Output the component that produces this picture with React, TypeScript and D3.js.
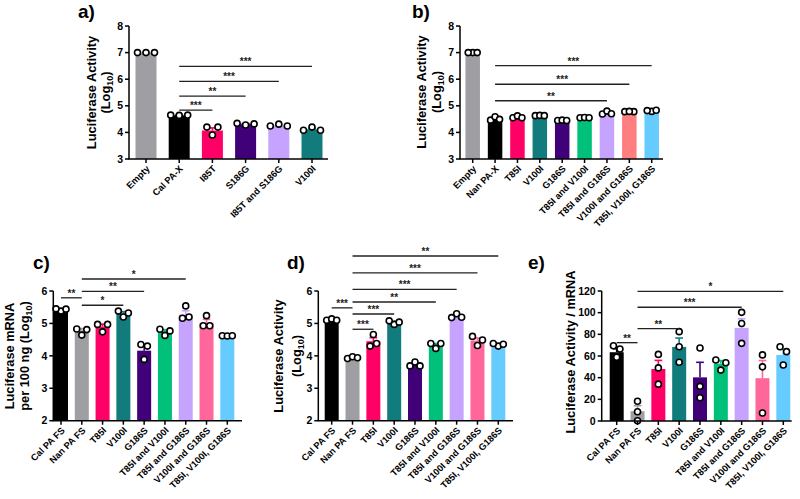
import React from "react";
import * as d3 from "d3";

const FONT = "'Liberation Sans', Arial, Helvetica, sans-serif";

// ---------- colours ----------
const GREY = "#9e9ea3";
const BLACK = "#000000";
const PINK = "#ff0066";
const TEAL = "#127c7c";
const PURPLE = "#3f0078";
const LAVENDER = "#c6a3ff";
const GREEN = "#00c07a";
const SALMON = "#ff7f80";
const ROSE = "#ff6699";
const SKY = "#66ccff";

// ---------- panel a ----------
const aCats = ["Empty", "Cal PA-X", "I85T", "S186G", "I85T and S186G", "V100I"];
const aMeans = [7.0, 4.64, 4.07, 4.31, 4.26, 4.12];
const aPoints = [
  [7.0, 7.0, 7.0],
  [4.64, 4.65, 4.65],
  [4.2, 3.9, 4.2],
  [4.28, 4.34, 4.32],
  [4.24, 4.31, 4.24],
  [4.08, 4.2, 4.08],
];
const aColors = [GREY, BLACK, PINK, PURPLE, LAVENDER, TEAL];
const aTicks = [3, 4, 5, 6, 7, 8];
const aSig = [
  { from: "Cal PA-X", to: "I85T", at: 4.84, label: "***" },
  { from: "Cal PA-X", to: "S186G", at: 5.36, label: "**" },
  { from: "Cal PA-X", to: "I85T and S186G", at: 5.92, label: "***" },
  { from: "Cal PA-X", to: "V100I", at: 6.48, label: "***" },
];

// ---------- panel b ----------
const bCats = ["Empty", "Nan PA-X", "T85I", "V100I", "G186S", "T85I and V100I", "T85I and G186S", "V100I and G186S", "T85I, V100I, G186S"];
const bMeans = [7.0, 4.5, 4.57, 4.63, 4.45, 4.55, 4.73, 4.78, 4.81];
const bPoints = [
  [7.0, 7.0, 7.0],
  [4.46, 4.59, 4.49],
  [4.55, 4.62, 4.55],
  [4.63, 4.64, 4.63],
  [4.45, 4.46, 4.45],
  [4.55, 4.56, 4.55],
  [4.69, 4.8, 4.7],
  [4.78, 4.78, 4.79],
  [4.79, 4.82, 4.83],
];
const bColors = [GREY, BLACK, PINK, TEAL, PURPLE, GREEN, LAVENDER, SALMON, SKY];
const bTicks = [3, 4, 5, 6, 7, 8];
const bSig = [
  { from: "Nan PA-X", to: "T85I and G186S", at: 5.19, label: "**" },
  { from: "Nan PA-X", to: "V100I and G186S", at: 5.81, label: "***" },
  { from: "Nan PA-X", to: "T85I, V100I, G186S", at: 6.51, label: "***" },
];

// ---------- panels c, d, e ----------
const fsCats = ["Cal PA FS", "Nan PA FS", "T85I", "V100I", "G186S", "T85I and V100I", "T85I and G186S", "V100I and G186S", "T85I, V100I, G186S"];
const fsColors = [BLACK, GREY, PINK, TEAL, PURPLE, GREEN, LAVENDER, ROSE, SKY];

const cMeans = [5.41, 4.78, 4.9, 5.31, 4.16, 4.75, 5.27, 5.02, 4.61];
const cPoints = [
  [5.38, 5.45, 5.44],
  [4.83, 4.81, 4.64],
  [4.97, 4.74, 4.97],
  [5.38, 5.2, 5.32],
  [4.35, 4.3, 3.89],
  [4.82, 4.63, 4.77],
  [5.54, 5.16, 5.2],
  [4.93, 5.24, 4.93],
  [4.62, 4.61, 4.62],
];
const cTicks = [2, 3, 4, 5, 6];
const cSig = [
  { from: "Cal PA FS", to: "Nan PA FS", at: 5.79, label: "**" },
  { from: "Nan PA FS", to: "V100I", at: 5.56, label: "*" },
  { from: "Nan PA FS", to: "G186S", at: 5.99, label: "**" },
  { from: "Nan PA FS", to: "T85I and G186S", at: 6.37, label: "*" },
];

const dMeans = [5.12, 3.94, 4.45, 5.03, 3.73, 4.33, 5.22, 4.47, 4.35];
const dPoints = [
  [5.1, 5.14, 5.1],
  [3.92, 3.97, 3.94],
  [4.3, 4.66, 4.38],
  [4.97, 5.08, 5.04],
  [3.69, 3.81, 3.69],
  [4.23, 4.38, 4.38],
  [5.3, 5.18, 5.19],
  [4.6, 4.32, 4.49],
  [4.3, 4.38, 4.36],
];
const dTicks = [2, 3, 4, 5, 6];
const dSig = [
  { from: "Cal PA FS", to: "Nan PA FS", at: 5.48, label: "***" },
  { from: "Nan PA FS", to: "T85I", at: 4.82, label: "***" },
  { from: "Nan PA FS", to: "V100I", at: 5.29, label: "***" },
  { from: "Nan PA FS", to: "T85I and V100I", at: 5.66, label: "**" },
  { from: "Nan PA FS", to: "T85I and G186S", at: 6.05, label: "***" },
  { from: "Nan PA FS", to: "V100I and G186S", at: 6.56, label: "***" },
  { from: "Nan PA FS", to: "T85I, V100I, G186S", at: 7.08, label: "**" },
];

const eMeans = [63.5, 9, 48, 68.4, 40.3, 53, 86, 39.5, 61];
const ePoints = [
  [69.5, 66.5, 58.8],
  [18.2, 8.6, 0.3],
  [61.5, 49, 34],
  [82.5, 68.6, 54.2],
  [67.4, 32, 21.5],
  [56.3, 47, 53.8],
  [100.3, 90, 71.7],
  [61, 50, 7.4],
  [68.6, 51.7, 64],
];
const eTicks = [0, 20, 40, 60, 80, 100, 120];
const eSig = [
  { from: "Cal PA FS", to: "Nan PA FS", at: 72.3, label: "**" },
  { from: "Nan PA FS", to: "V100I", at: 85.2, label: "**" },
  { from: "Nan PA FS", to: "T85I and G186S", at: 105, label: "***" },
  { from: "Nan PA FS", to: "T85I, V100I, G186S", at: 119.7, label: "*" },
];

type Sig = { from: string; to: string; at: number; label: string };
type YLine = { text: string; sub?: string; tail?: string; x: number };

type PanelProps = {
  title: string;
  titleX: number;
  titleY: number;
  cats: string[];
  means: number[];
  points: number[][];
  colors: string[];
  ticks: number[];
  axisX: number;
  axisEnd: number;
  firstX: number;
  lastX: number;
  yTop: number;
  yBot: number;
  barW: number;
  spread: number;
  ylabel: YLine[];
  ylabelY: number;
  sig: Sig[];
};

function sem(v: number[]) {
  const m = d3.mean(v) as number;
  const sd = d3.deviation(v) as number;
  return { m, s: sd / Math.sqrt(v.length) };
}

function spreadPoints(vals: number[], y: (v: number) => number, d: number): number[] {
  const thr = 7.5;
  const py = vals.map(y);
  const n = vals.length;
  const collide = (i: number, j: number) => Math.abs(py[i] - py[j]) < thr;
  const offs = new Array(n).fill(0);
  if (n === 3) {
    const c01 = collide(0, 1), c02 = collide(0, 2), c12 = collide(1, 2);
    const cnt = [c01, c02, c12].filter(Boolean).length;
    if (cnt >= 2) {
      const dist = [0, 1, 2].map((i) => [0, 1, 2].reduce((s, j) => s + Math.abs(py[i] - py[j]), 0));
      const mid = dist.indexOf(Math.max(...dist));
      const others = [0, 1, 2].filter((i) => i !== mid);
      offs[mid] = 0;
      offs[others[0]] = -d;
      offs[others[1]] = d;
    } else if (cnt === 1) {
      const pair = c01 ? [0, 1] : c02 ? [0, 2] : [1, 2];
      offs[pair[0]] = -0.65 * d;
      offs[pair[1]] = 0.65 * d;
    }
  }
  return offs;
}

function Panel(p: PanelProps) {
  const x = d3.scalePoint<string>().domain(p.cats).range([p.firstX, p.lastX]);
  const y = d3.scaleLinear().domain([p.ticks[0], p.ticks[p.ticks.length - 1]]).range([p.yBot, p.yTop]);
  const bold = { fontFamily: FONT, fontWeight: 700 as const };
  return (
    <g>
      <text x={p.titleX} y={p.titleY} fontSize={19} {...bold}>
        {p.title}
      </text>
      {p.cats.map((c, i) => {
        const cx = x(c) as number;
        const top = y(p.means[i]);
        const { s } = sem(p.points[i]);
        const et = y(p.means[i] + s);
        const cap = Math.min(p.barW * 0.55, 8);
        return (
          <g key={"b" + c}>
            <rect x={cx - p.barW / 2} y={top} width={p.barW} height={p.yBot - top} fill={p.colors[i]} />
            <line x1={cx} x2={cx} y1={top} y2={et} stroke={p.colors[i]} strokeWidth={1.6} />
            <line x1={cx - cap / 2} x2={cx + cap / 2} y1={et} y2={et} stroke={p.colors[i]} strokeWidth={1.6} />
          </g>
        );
      })}
      {p.cats.map((c, i) => {
        const cx = x(c) as number;
        const offs = spreadPoints(p.points[i], y, p.spread);
        return (
          <g key={"p" + c}>
            {p.points[i].map((v, k) => (
              <circle key={k} cx={cx + offs[k]} cy={y(v)} r={3} fill="#fff" stroke="#000" strokeWidth={1.6} />
            ))}
          </g>
        );
      })}
      <line x1={p.axisX} x2={p.axisX} y1={p.yTop} y2={p.yBot} stroke="#000" strokeWidth={1.5} />
      <line x1={p.axisX - 0.75} x2={p.axisEnd} y1={p.yBot} y2={p.yBot} stroke="#000" strokeWidth={1.5} />
      {p.ticks.map((t) => (
        <g key={"t" + t}>
          <line x1={p.axisX - 4} x2={p.axisX} y1={y(t)} y2={y(t)} stroke="#000" strokeWidth={1.5} />
          <text x={p.axisX - 6} y={y(t)} dy="0.35em" textAnchor="end" fontSize={10.5} {...bold}>
            {t}
          </text>
        </g>
      ))}
      {p.cats.map((c) => {
        const cx = x(c) as number;
        return (
          <g key={"x" + c}>
            <line x1={cx} x2={cx} y1={p.yBot} y2={p.yBot + 4} stroke="#000" strokeWidth={1.5} />
            <text
              transform={`translate(${cx + 2},${p.yBot + 8}) rotate(-45)`}
              textAnchor="end"
              dy="0.35em"
              fontSize={9.3}
              {...bold}
            >
              {c}
            </text>
          </g>
        );
      })}
      {p.ylabel.map((l, i) => (
        <text
          key={"yl" + i}
          transform={`translate(${l.x},${p.ylabelY}) rotate(-90)`}
          textAnchor="middle"
          dy="0.35em"
          fontSize={12.8}
          {...bold}
        >
          {l.text}
          {l.sub ? (
            <tspan fontSize={9} dy="3">
              {l.sub}
            </tspan>
          ) : null}
          {l.tail ? <tspan dy="-3">{l.tail}</tspan> : null}
        </text>
      ))}
      {p.sig.map((s, i) => {
        const x1 = x(s.from) as number;
        const x2 = x(s.to) as number;
        const yy = y(s.at);
        return (
          <g key={"s" + i}>
            <line x1={x1} x2={x2} y1={yy} y2={yy} stroke="#222" strokeWidth={1.3} />
            <text x={(x1 + x2) / 2} y={yy - 1} textAnchor="middle" fontSize={10} fill="#222" {...bold}>
              {s.label}
            </text>
          </g>
        );
      })}
    </g>
  );
}

export default function App() {
  return (
    <svg
      width={800}
      height={499}
      viewBox="0 0 800 499"
      style={{ position: "absolute", left: 0, top: 0, background: "#fff" }}
    >
      <rect width={800} height={499} fill="#fff" />
      <Panel
        title="a)"
        titleX={78}
        titleY={18}
        cats={aCats}
        means={aMeans}
        points={aPoints}
        colors={aColors}
        ticks={aTicks}
        axisX={129}
        axisEnd={328}
        firstX={146}
        lastX={312}
        yTop={26}
        yBot={159}
        barW={21}
        spread={8.5}
        ylabel={[
          { text: "Luciferase Activity", x: 92 },
          { text: "(Log", sub: "10", tail: ")", x: 106 },
        ]}
        ylabelY={92.5}
        sig={aSig}
      />
      <Panel
        title="b)"
        titleX={412}
        titleY={18}
        cats={bCats}
        means={bMeans}
        points={bPoints}
        colors={bColors}
        ticks={bTicks}
        axisX={460}
        axisEnd={663}
        firstX={472.7}
        lastX={651.7}
        yTop={26}
        yBot={159}
        barW={14.5}
        spread={4.5}
        ylabel={[
          { text: "Luciferase Activity", x: 422 },
          { text: "(Log", sub: "10", tail: ")", x: 437 },
        ]}
        ylabelY={92}
        sig={bSig}
      />
      <Panel
        title="c)"
        titleX={33}
        titleY={269}
        cats={fsCats}
        means={cMeans}
        points={cPoints}
        colors={fsColors}
        ticks={cTicks}
        axisX={53.3}
        axisEnd={242}
        firstX={61}
        lastX={227.3}
        yTop={291}
        yBot={420.7}
        barW={14}
        spread={5}
        ylabel={[
          { text: "Luciferase mRNA", x: 10 },
          { text: "per 100 ng (Log", sub: "10", tail: ")", x: 25 },
        ]}
        ylabelY={356}
        sig={cSig}
      />
      <Panel
        title="d)"
        titleX={287}
        titleY={269}
        cats={fsCats}
        means={dMeans}
        points={dPoints}
        colors={fsColors}
        ticks={dTicks}
        axisX={318.3}
        axisEnd={513}
        firstX={331.7}
        lastX={498.3}
        yTop={291}
        yBot={420.7}
        barW={14}
        spread={5}
        ylabel={[
          { text: "Luciferase Activity", x: 278.5 },
          { text: "(Log", sub: "10", tail: ")", x: 296.5 },
        ]}
        ylabelY={356}
        sig={dSig}
      />
      <Panel
        title="e)"
        titleX={528}
        titleY={269}
        cats={fsCats}
        means={eMeans}
        points={ePoints}
        colors={fsColors}
        ticks={eTicks}
        axisX={601.7}
        axisEnd={791.7}
        firstX={616.7}
        lastX={783.3}
        yTop={291}
        yBot={421}
        barW={14}
        spread={5}
        ylabel={[{ text: "Luciferase Activity / mRNA", x: 571 }]}
        ylabelY={352}
        sig={eSig}
      />
    </svg>
  );
}
